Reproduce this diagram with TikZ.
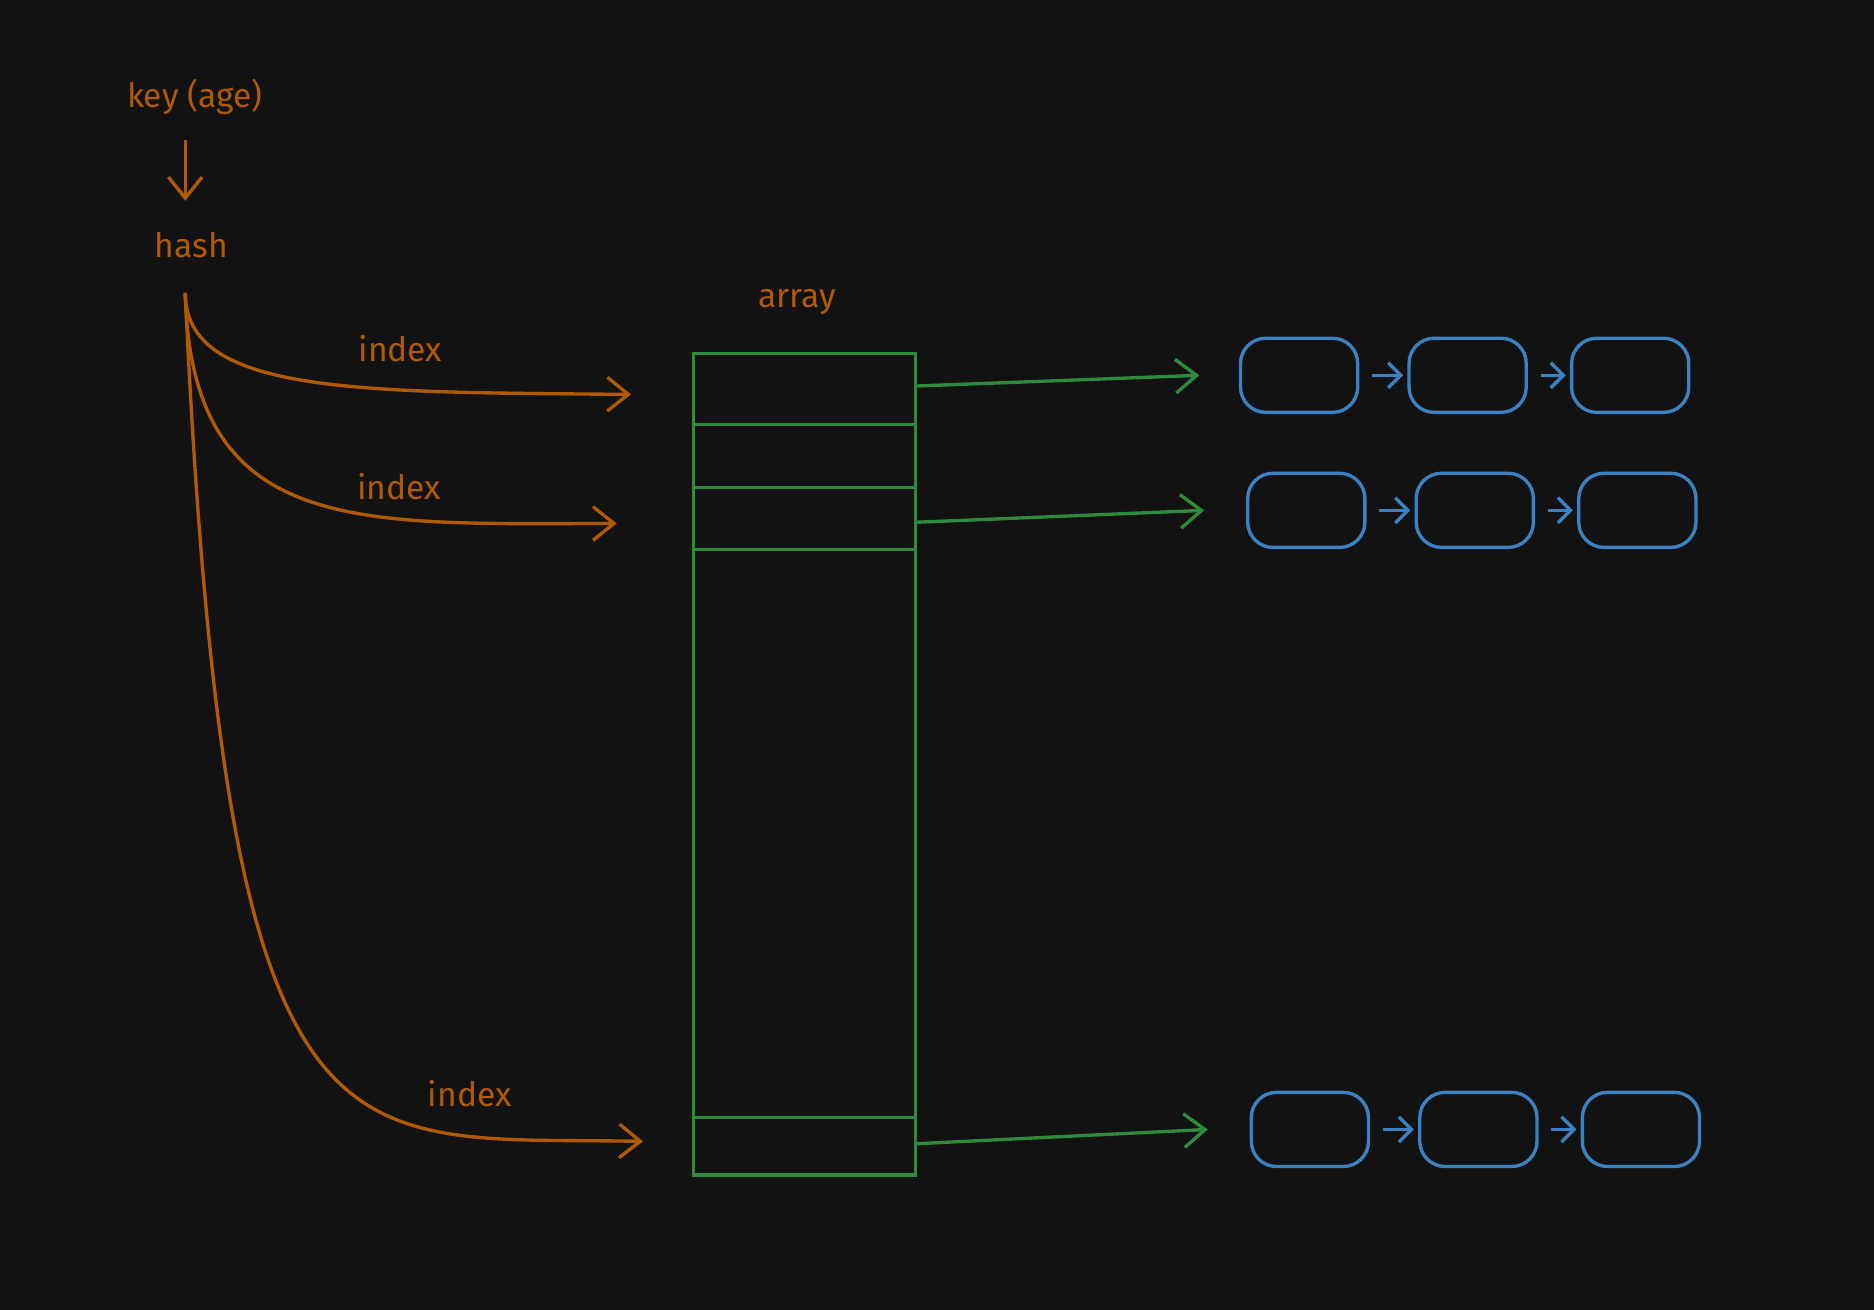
\documentclass[tikz,border=0pt]{standalone}
\usepackage{fontspec}
\setmainfont{Fira Sans}
\usetikzlibrary{arrows.meta,positioning}
\definecolor{bg}{HTML}{121212}
\definecolor{hashcol}{HTML}{B05A08}
\definecolor{arrcol}{HTML}{2F8A3E}
\definecolor{listcol}{HTML}{3C82C2}
\tikzset{
	label/.style={text=hashcol, font=\footnotesize},
	flow/.style={->, >={Straight Barb[length=5pt,width=8pt]}, draw=hashcol, thick},
	slot/.style={->, >={Straight Barb[length=5pt,width=8pt]}, draw=arrcol, thick},
	item/.style={rectangle, rounded corners=6pt, draw=listcol, thick,
		minimum width=0.98cm, minimum height=0.62cm, inner sep=0pt},
	link/.style={->, >={Straight Barb[length=3pt,width=6pt]}, draw=listcol, thick,
		shorten <=3pt, shorten >=1pt}
}

\begin{document}
\begin{tikzpicture}[x=0.01cm, y=-0.01cm]
\fill [bg] (0,0) rectangle (1568,1096);

\node [label] (key) at (163,81) {key (age)};
\node [label] (hash) at (160,205) {hash};
\draw [flow] (155,117) -- (155,168);

% array
\node [label] (array) at (667,253) {array};
\draw [arrcol, thick] (580,296) rectangle (766,983);
\foreach \y in {355,408,460,935}
	\draw [arrcol, thick] (580,\y) -- (766,\y);
\coordinate (slotA) at (766,323);
\coordinate (slotB) at (766,437);
\coordinate (slotC) at (766,957);

% hash -> array
\coordinate (hashout) at (155,245);
\coordinate (inA) at (528,330);
\coordinate (inB) at (516,438);
\coordinate (inC) at (538,955);
\draw [flow] (hashout) .. controls (155,330) and (300,328) .. (inA);
\draw [flow] (hashout) .. controls (160,450) and (300,438) .. (inB);
\draw [flow] (hashout) .. controls (190,1000) and (280,950) .. (inC);
\node [label] at (335,292) {index};
\node [label] at (334,407) {index};
\node [label] at (393,915) {index};

% buckets
\node [item] (a1) at (1087,314) {};
\node [item] (a2) at (1228,314) {};
\node [item] (a3) at (1364,314) {};
\node [item] (b1) at (1093,427) {};
\node [item] (b2) at (1234,427) {};
\node [item] (b3) at (1370,427) {};
\node [item] (c1) at (1096,945) {};
\node [item] (c2) at (1237,945) {};
\node [item] (c3) at (1373,945) {};
\foreach \r in {a,b,c} {
	\draw [link] (\r1) -- (\r2);
	\draw [link] (\r2) -- (\r3);
}
\draw [slot] (slotA) -- ([xshift=-0.33cm]a1.west);
\draw [slot] (slotB) -- ([xshift=-0.35cm]b1.west);
\draw [slot] (slotC) -- ([xshift=-0.35cm]c1.west);
\end{tikzpicture}
\end{document}
